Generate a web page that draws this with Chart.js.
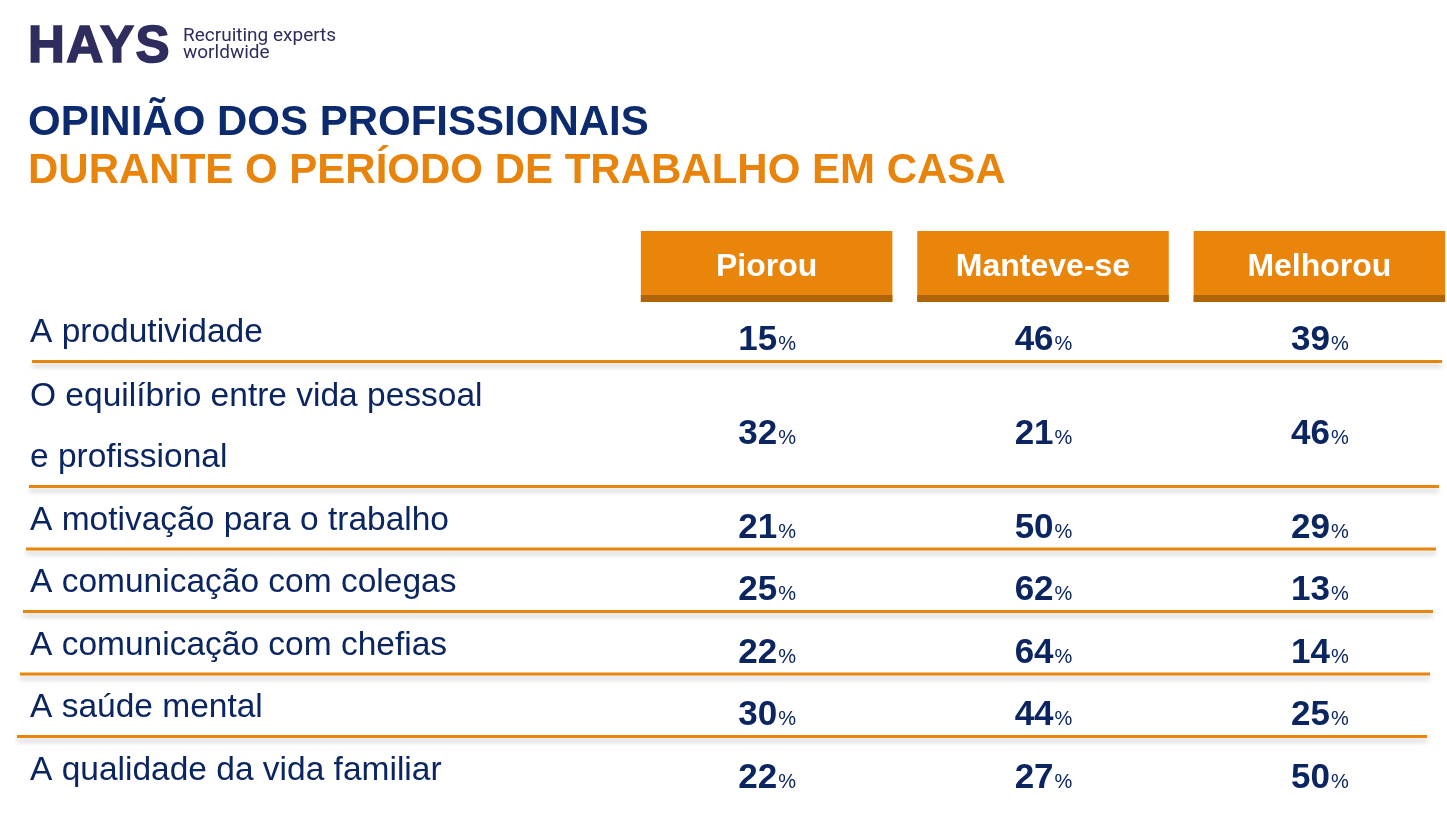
<!DOCTYPE html>
<html>
<head>
<meta charset="utf-8">
<script src="https://cdn.jsdelivr.net/npm/chart.js@4"></script>
<style>
  body { margin: 0; background: #fff; }
  #wrap { position: relative; width: 1447px; height: 819px; overflow: hidden; }
  #chart { position: absolute; left: 0; top: 0; }
  .t { position: absolute; white-space: nowrap; font-family: "Liberation Sans", Arial, sans-serif; }
</style>
</head>
<body>
<div id="wrap">
  <canvas id="chart" width="1447" height="819"></canvas>
  <!-- logo and title -->
  <div class="t" style="left:28px;top:19px;font-size:51px;line-height:51px;font-weight:bold;color:#2f2c5e;-webkit-text-stroke:1.6px #2f2c5e;letter-spacing:1.5px;">HAYS</div>
  <div class="t" style="left:183px;top:26px;font-family:Roboto,sans-serif;font-size:19px;line-height:17px;color:#2f2c5e;">Recruiting experts<br>worldwide</div>
  <div class="t" style="left:28px;top:100px;font-size:42px;line-height:42px;font-weight:bold;color:#0c2a6e;">OPINIÃO DOS PROFISSIONAIS</div>
  <div class="t" style="left:28px;top:148px;font-size:42px;line-height:42px;font-weight:bold;color:#e8830c;">DURANTE O PERÍODO DE TRABALHO EM CASA</div>
</div>
<script>
// Row labels (a row with two lines gets an array)
const categories = [
    'A produtividade',
    ['O equilíbrio entre vida pessoal', 'e profissional'],
    'A motivação para o trabalho',
    'A comunicação com colegas',
    'A comunicação com chefias',
    'A saúde mental',
    'A qualidade da vida familiar'
];
const seriesNames = ['Piorou', 'Manteve-se', 'Melhorou'];
const piorou = [15, 32, 21, 25, 22, 30, 22];
const manteve = [46, 21, 50, 62, 64, 44, 27];
const melhorou = [39, 46, 29, 13, 14, 25, 50];

const navy = '#0b2560';
const orange = '#e8850a';
const orangeDark = '#b0640a';
const font = '"Liberation Sans", Arial, sans-serif';

// each row takes as many units as its label has lines
const spans = categories.map(c => Array.isArray(c) ? c.length : 1);
const rowCenters = [];
let acc = 0;
spans.forEach(s => { rowCenters.push(acc + s / 2); acc += s; });
const totalUnits = acc;

const allSeries = [piorou, manteve, melhorou];

const tablePlugin = {
    id: 'tablePlugin',
    afterDatasetsDraw(chart) {
        const ctx = chart.ctx;
        const xs = chart.scales.x;
        const ys = chart.scales.y;
        const area = chart.chartArea;
        ctx.save();

        // header boxes
        seriesNames.forEach((name, i) => {
            const l = xs.getPixelForValue(i - 0.455);
            const r = xs.getPixelForValue(i + 0.455);
            const top = area.top - 68;
            const bottom = area.top + 3;
            ctx.fillStyle = orange;
            ctx.fillRect(l, top, r - l, bottom - top);
            ctx.fillStyle = orangeDark;
            ctx.fillRect(l, bottom - 7, r - l, 7);
            ctx.fillStyle = '#ffffff';
            ctx.font = 'bold 32px ' + font;
            ctx.textAlign = 'center';
            ctx.textBaseline = 'alphabetic';
            ctx.fillText(name, (l + r) / 2, top + 45);
        });

        // separator lines between rows
        let edge = 0;
        for (let i = 0; i < spans.length - 1; i++) {
            edge += spans[i];
            const y = ys.getPixelForValue(edge);
            ctx.save();
            ctx.shadowColor = 'rgba(0,0,0,0.2)';
            ctx.shadowBlur = 5;
            ctx.shadowOffsetY = 4;
            ctx.strokeStyle = orange;
            ctx.lineWidth = 3;
            ctx.beginPath();
            ctx.moveTo(32 - i * 3, y);
            ctx.lineTo(xs.getPixelForValue(2.44) + 1 - i * 3, y);
            ctx.stroke();
            ctx.restore();
        }

        // row labels
        ctx.fillStyle = navy;
        ctx.font = '33.5px ' + font;
        ctx.textAlign = 'left';
        ctx.textBaseline = 'alphabetic';
        categories.forEach((c, i) => {
            const lines = Array.isArray(c) ? c : [c];
            const cy = ys.getPixelForValue(rowCenters[i]);
            const step = 61;
            lines.forEach((line, k) => {
                const y = cy + (k - (lines.length - 1) / 2) * step;
                ctx.fillText(line, 30, y + 12);
            });
        });

        // values
        chart.data.datasets.forEach((ds, di) => {
            const meta = chart.getDatasetMeta(di);
            meta.data.forEach((pt, i) => {
                const num = String(ds.data[i].v);
                ctx.font = 'bold 35px ' + font;
                const w1 = ctx.measureText(num).width;
                ctx.font = '20px ' + font;
                const w2 = ctx.measureText('%').width;
                const x0 = pt.x - (w1 + w2) / 2;
                const base = pt.y + 20;
                ctx.fillStyle = navy;
                ctx.textAlign = 'left';
                ctx.font = 'bold 35px ' + font;
                ctx.fillText(num, x0, base);
                ctx.font = '20px ' + font;
                ctx.fillText('%', x0 + w1 + 1, base);
            });
        });

        ctx.restore();
    }
};

const chart = new Chart(document.getElementById('chart').getContext('2d'), {
    type: 'scatter',
    data: {
        datasets: allSeries.map((vals, s) => ({
            label: seriesNames[s],
            data: vals.map((v, i) => ({ x: s, y: rowCenters[i], v: v })),
            pointRadius: 0,
            pointHoverRadius: 0
        }))
    },
    options: {
        responsive: false,
        animation: false,
        layout: { padding: { left: 645, right: 6, top: 299, bottom: 20 } },
        scales: {
            x: { type: 'linear', min: -0.44, max: 2.44, display: false },
            y: { type: 'linear', min: 0, max: totalUnits, reverse: true, display: false }
        },
        plugins: {
            legend: { display: false },
            tooltip: { enabled: false }
        }
    },
    plugins: [tablePlugin]
});
</script>
</body>
</html>
